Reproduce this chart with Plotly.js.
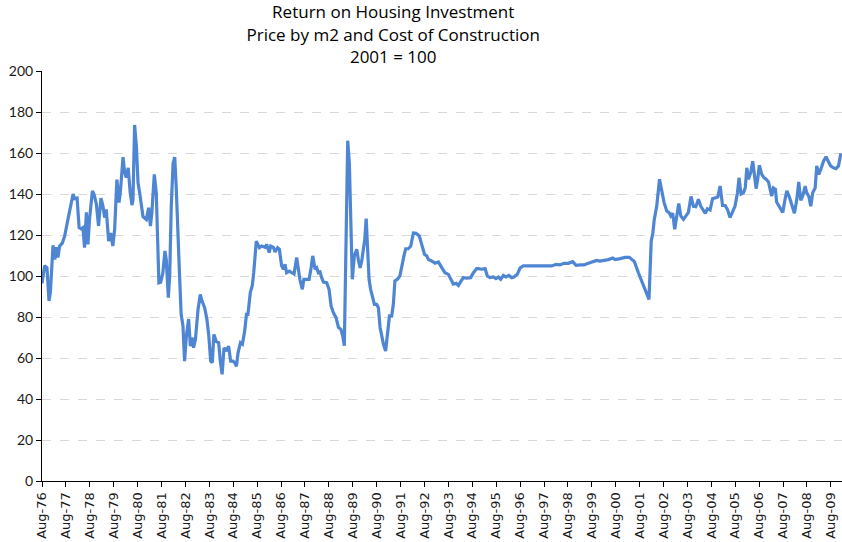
<!DOCTYPE html>
<html>
<head>
<meta charset="utf-8">
<script src="https://cdn.plot.ly/plotly-3.0.1.min.js"></script>
<style>
  html, body { margin: 0; padding: 0; background: #ffffff; }
  #chart { width: 842px; height: 542px; }
</style>
</head>
<body>
<div id="chart"></div>
<script>
const dates = [
  "1976-08-01","1976-09-10","1976-10-16","1976-11-16","1976-12-07","1977-01-16","1977-02-13","1977-03-07","1977-04-01","1977-04-28",
  "1977-06-07","1977-07-13","1977-08-22","1977-09-28","1977-10-22","1977-11-19","1977-12-13","1978-01-19","1978-02-19","1978-03-22",
  "1978-04-19","1978-05-13","1978-06-10","1978-07-04","1978-07-28","1978-09-10","1978-10-04","1978-11-10","1978-12-13","1979-01-19",
  "1979-02-19","1979-03-16","1979-04-10","1979-05-16","1979-06-16","1979-07-19","1979-08-16","1979-09-19","1979-10-22","1979-11-10",
  "1979-12-22","1980-01-16","1980-02-10","1980-03-10","1980-04-10","1980-05-07","1980-05-22","1980-06-16","1980-07-13","1980-08-07",
  "1980-09-01","1980-09-28","1980-10-22","1980-12-13","1981-01-16","1981-02-13","1981-03-07","1981-04-13","1981-05-13","1981-06-22",
  "1981-07-19","1981-08-22","1981-09-22","1981-10-13","1981-11-13","1981-12-04","1981-12-28","1982-01-25","1982-02-19","1982-03-13",
  "1982-04-10","1982-05-04","1982-05-28","1982-06-25","1982-07-19","1982-08-16","1982-09-19","1982-10-16","1982-11-10","1982-12-04",
  "1983-01-01","1983-02-10","1983-03-16","1983-04-10","1983-05-22","1983-06-25","1983-07-25","1983-08-22","1983-09-16","1983-10-10",
  "1983-11-16","1983-12-22","1984-01-16","1984-02-13","1984-03-13","1984-04-16","1984-05-22","1984-06-22","1984-07-28","1984-08-22",
  "1984-09-19","1984-10-13","1984-11-19","1984-12-19","1985-01-22","1985-02-19","1985-03-13","1985-04-19","1985-05-19","1985-06-10",
  "1985-07-19","1985-09-04","1985-10-10","1985-12-01","1985-12-25","1986-02-01","1986-02-25","1986-04-07","1986-05-01","1986-06-10",
  "1986-07-07","1986-08-10","1986-09-07","1986-10-01","1986-10-25","1986-12-07","1987-01-13","1987-02-16","1987-03-28","1987-04-22",
  "1987-05-16","1987-06-22","1987-07-16","1987-08-28","1987-10-04","1987-11-04","1987-11-28","1988-01-04","1988-01-28","1988-02-22",
  "1988-03-19","1988-04-13","1988-05-10","1988-06-28","1988-08-04","1988-09-04","1988-10-10","1988-11-19","1988-12-25","1989-02-01",
  "1989-03-01","1989-03-25","1989-04-19","1989-05-16","1989-06-10","1989-07-01","1989-07-25","1989-08-25","1989-10-01","1989-10-25",
  "1989-11-22","1989-12-16","1990-01-10","1990-02-01","1990-02-22","1990-03-10","1990-04-07","1990-05-01","1990-06-01","1990-06-28",
  "1990-08-01","1990-08-28","1990-09-22","1990-10-16","1990-11-13","1990-12-16","1991-01-13","1991-02-13","1991-03-19","1991-04-13",
  "1991-05-07","1991-06-13","1991-07-22","1991-08-19","1991-09-22","1991-10-19","1991-11-28","1992-01-04","1992-02-13","1992-03-25",
  "1992-05-13","1992-06-19","1992-08-01","1992-09-04","1992-10-01","1992-11-19","1993-01-10","1993-03-01","1993-04-22","1993-06-10",
  "1993-08-01","1993-09-07","1993-10-16","1993-11-28","1994-01-01","1994-02-13","1994-03-16","1994-05-07","1994-07-07","1994-08-19",
  "1994-10-07","1994-11-01","1994-12-22","1995-02-13","1995-03-19","1995-04-28","1995-06-19","1995-07-28","1995-09-04","1995-10-10",
  "1995-11-19","1995-12-28","1996-02-13","1996-03-25","1996-04-28","1996-06-19","1996-08-01","1996-09-19","1996-11-19","1997-01-25",
  "1997-04-10","1997-06-25","1997-09-10","1997-11-28","1998-02-01","1998-04-01","1998-06-01","1998-08-07","1998-10-13","1998-12-04",
  "1999-02-04","1999-04-04","1999-06-10","1999-08-25","1999-10-13","1999-12-04","2000-02-19","2000-04-10","2000-06-16","2000-07-22",
  "2000-10-07","2000-12-22","2001-02-25","2001-04-01","2001-05-13","2001-07-13","2001-09-01","2001-10-22","2001-12-22","2002-01-25",
  "2002-02-19","2002-03-13","2002-04-19","2002-06-01","2002-07-04","2002-08-10","2002-09-19","2002-10-25","2002-11-19","2002-12-19",
  "2003-01-19","2003-02-19","2003-03-22","2003-04-22","2003-06-01","2003-07-10","2003-08-16","2003-09-25","2003-11-01","2003-12-07",
  "2004-01-16","2004-02-22","2004-04-01","2004-05-01","2004-06-01","2004-07-13","2004-08-19","2004-09-28","2004-11-07","2004-12-13",
  "2005-01-19","2005-02-28","2005-04-04","2005-05-13","2005-06-19","2005-07-28","2005-09-04","2005-09-28","2005-10-28","2005-12-04",
  "2006-01-01","2006-01-25","2006-02-19","2006-03-25","2006-04-25","2006-05-19","2006-06-16","2006-07-10","2006-08-04","2006-09-10",
  "2006-10-16","2006-11-16","2006-12-22","2007-01-16","2007-02-10","2007-03-07","2007-04-07","2007-04-25","2007-06-07","2007-07-28",
  "2007-09-01","2007-09-28","2007-11-01","2007-12-13","2008-01-22","2008-02-28","2008-03-28","2008-04-28","2008-05-28","2008-07-04",
  "2008-07-28","2008-08-28","2008-09-28","2008-10-28","2008-12-04","2008-12-28","2009-01-28","2009-02-28","2009-04-10","2009-05-19",
  "2009-06-25","2009-07-28","2009-09-10","2009-10-19","2009-11-25","2010-01-01"
];

// Index values, 2001 = 100
const returnIndex = [
  96.4,105,104,87.8,92,115,108,114,109,114.6,
  116,119.5,126,132,137,140,137.7,138,123.6,123,
  123.6,113.8,131,115.4,127.6,141.5,140,135,124.4,138,
  134,128.5,132.5,117,121,114.6,122.8,147,135.8,140.6,
  158,150.4,148,152.8,140.6,134.6,137,173.7,163.4,145.5,
  140.6,134,129,127.6,133.3,124.4,131,149.6,140.6,96.7,
  97,101.6,112.2,108,89.4,100,134,155,158,144,
  124.4,100,81.3,75.6,58.5,70.7,79,65.8,70,65,
  69,83.7,91,88,84.5,79,70.7,58.5,57.7,71.5,
  68,67.5,58.5,52,65,63.4,65.8,58.5,58.5,57.7,
  56,62.4,67.5,66.8,73,81.3,81.3,92,95.3,101.6,
  117,113.8,114.6,114,115.4,111.4,114.6,114,111.7,113.8,
  113,105,103.3,105.7,101.6,102.4,101.6,101,109,104,
  98.4,93.5,98.4,98.4,98.4,104,109.8,103.3,104,101.6,
  102,99.2,97,96.7,93.5,85.4,82,79.7,75,74,
  70.7,66,116,166,155,119.5,98.4,109.8,113,108,
  104,107.3,112.2,118,128,114.6,98.4,93.5,88.6,86.2,
  86.2,84.5,75,70.7,66.7,63.4,72.4,80.5,80.5,86.2,
  97.6,98.4,100,105,109.8,113.3,113.3,114.6,121,120.8,
  119.5,115.4,110.6,109.8,108,107.3,106.2,106.8,104,101.6,
  100.8,98.4,96,96.4,95.4,97.6,99.2,99,99.2,101.6,
  103.6,103.6,103.3,103.6,100,99.2,99.5,98.7,99.5,98.4,
  100.3,99.5,100.3,99.2,99.5,100.8,104,104.9,104.9,104.6,
  104.9,104.9,104.9,104.9,105.7,105.4,106.2,106.2,107,105.2,
  105.4,105.4,106.2,107,107.6,107.3,107.6,108,108.8,108,
  108.5,109.1,109.1,108,107,101.6,97.6,92.7,88.6,117,
  121,127.6,134,147.2,141.5,135.8,131.7,130.9,129.3,130.6,
  122.8,129.3,135.4,129.3,127.6,129.3,131,138.8,134,133.8,
  137.4,134,132.2,130.6,132.8,132.2,137.7,138.2,138.5,143.9,
  134.4,134.4,132.5,128.5,131,134,140.6,147.9,140,140.6,
  143,152.8,147.2,150.4,156,147.9,142.6,147.2,154,149.6,
  147.9,147.2,145.9,142.3,139,143,142.3,136.1,134,131,
  137.4,141.5,139,134,130.6,137.4,145.9,136.9,139,143.9,
  140.6,139,134,140.6,143,153.7,149.6,152,156,158.2,
  155.3,153.7,152.8,152.4,153.7,159.8
];

const titleLines = ["Return on Housing Investment", "Price by m2 and Cost of Construction", "2001 = 100"];

const trace = {
  type: "scatter",
  mode: "lines",
  x: dates,
  y: returnIndex,
  line: { color: "#4F86D3", width: 3.2 },
  hoverinfo: "x+y"
};

const layout = {
  width: 842,
  height: 542,
  paper_bgcolor: "#ffffff",
  plot_bgcolor: "#ffffff",
  margin: { l: 42, r: 0, t: 71, b: 61, pad: 0 },
  showlegend: false,
  title: {
    text: titleLines.join("<br>"),
    font: { family: "Open Sans, sans-serif", size: 17, color: "#000000" },
    xref: "container", x: 0.467, xanchor: "center",
    yref: "container", y: 0.966, yanchor: "middle"
  },
  xaxis: {
    type: "date",
    range: ["1976-08-01", "2010-01-18"],
    tick0: "1976-08-01",
    dtick: "M12",
    tickformat: "%b-%y",
    tickangle: -90,
    ticks: "outside",
    ticklen: 5,
    tickcolor: "#000000",
    showline: true,
    linecolor: "#000000",
    linewidth: 1,
    showgrid: false,
    zeroline: false,
    tickfont: { family: "DejaVu Sans, sans-serif", size: 13, color: "#1a1a1a" }
  },
  yaxis: {
    range: [0, 200],
    tick0: 0,
    dtick: 20,
    ticks: "outside",
    ticklen: 5,
    tickcolor: "#000000",
    showline: true,
    linecolor: "#000000",
    linewidth: 1,
    showgrid: true,
    gridcolor: "#d9d9d9",
    griddash: "dash",
    gridwidth: 1,
    zeroline: false,
    tickfont: { family: "Lato, sans-serif", size: 14, color: "#1a1a1a" }
  }
};

Plotly.newPlot("chart", [trace], layout, { displayModeBar: false, staticPlot: true });
</script>
</body>
</html>
